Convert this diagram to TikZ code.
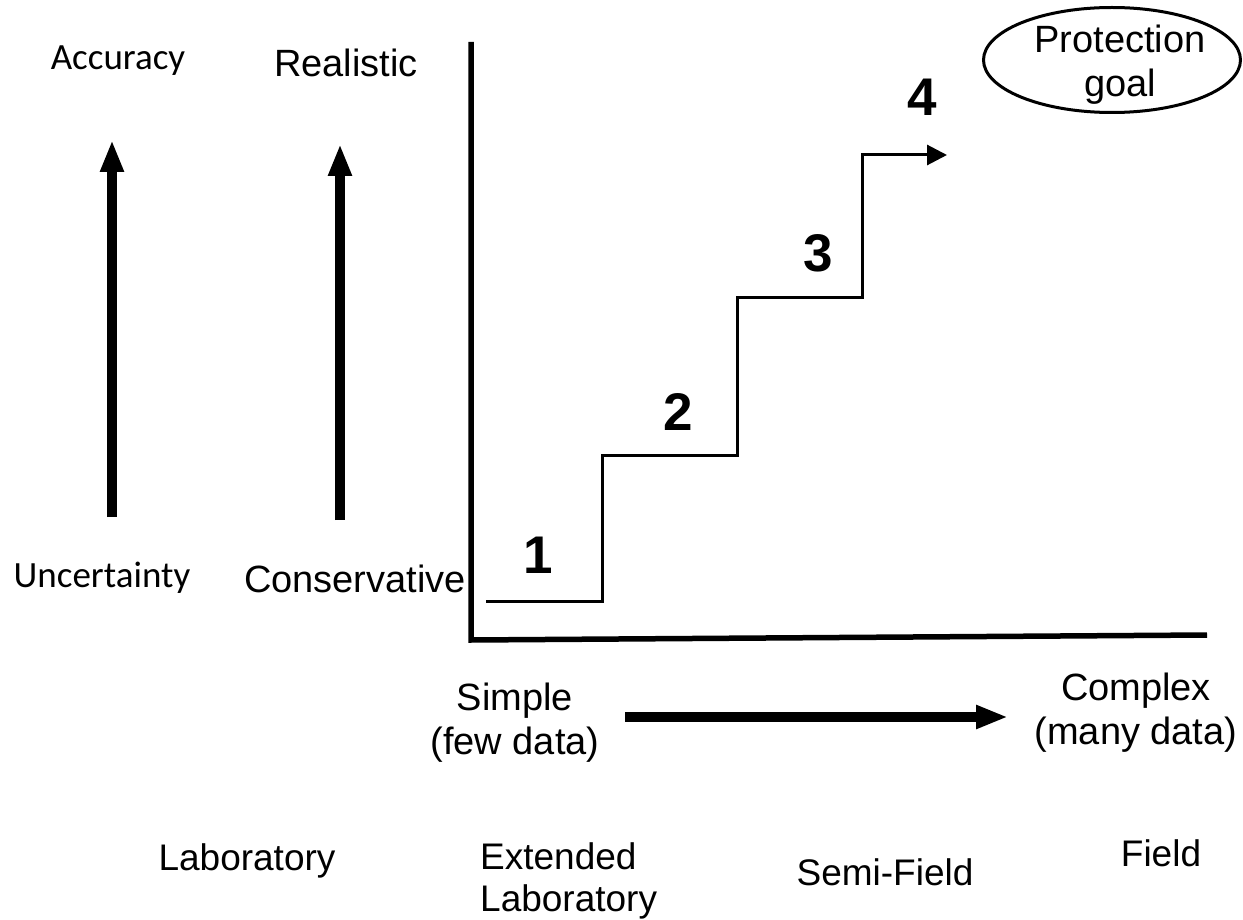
\documentclass[tikz,border=0pt]{standalone}
\usepackage{fontspec}
\setmainfont{Liberation Sans}
\newfontfamily\carlito{Carlito}
\usetikzlibrary{arrows.meta,shapes.geometric}
\tikzset{
  lbl/.style={inner sep=0pt, font=\fontsize{38}{44}\selectfont},
  lblc/.style={inner sep=0pt, font=\carlito\fontsize{37}{42}\selectfont},
  lblb/.style={inner sep=0pt, font=\fontsize{37}{42}\selectfont},
  num/.style={inner sep=0pt, font=\bfseries\fontsize{53}{58}\selectfont},
  axis/.style={line width=5.5pt, line cap=butt},
  stair/.style={line width=3pt, -{Triangle[length=20pt,width=20pt]}},
  bigarrow/.style={line width=10pt, -{Triangle[length=32pt,width=22pt]}},
  goal/.style={draw, ellipse, line width=3pt, minimum width=257pt, minimum height=105pt, inner sep=0pt}
}
\begin{document}
\begin{tikzpicture}[x=1pt,y=-1pt]
\useasboundingbox (0,0) rectangle (1243,920);
% left labels
\node[lblc, anchor=base] (acc) at (118,70) {Accuracy};
\node[lblc, anchor=base] (unc) at (102,587) {Uncertainty};
\node[lbl, anchor=base] (real) at (346,77) {Realistic};
\node[lbl, anchor=base] (cons) at (355,592) {Conservative};
% vertical arrows
\coordinate (a1s) at (112,517);
\coordinate (a1e) at (112,140);
\coordinate (a2s) at (340,520);
\coordinate (a2e) at (340,144);
\draw[bigarrow] (a1s) -- (a1e);
\draw[bigarrow] (a2s) -- (a2e);
% axes
\coordinate (top) at (471,42);
\coordinate (org) at (471,640);
\coordinate (xend) at (1207,635);
\draw[axis, line join=miter] (top) -- (org) -- (xend);
% staircase
\coordinate (s0) at (486,601);
\coordinate (s1) at (602,601);
\coordinate (s2) at (602,455);
\coordinate (s3) at (737,455);
\coordinate (s4) at (737,298);
\coordinate (s5) at (862,298);
\coordinate (s6) at (862,155);
\coordinate (s7) at (947,155);
\draw[stair, line join=miter] (s0) -- (s1) -- (s2) -- (s3) -- (s4) -- (s5) -- (s6) -- (s7);
% numbers
\node[num, anchor=base] (n1) at (538,573) {1};
\node[num, anchor=base] (n2) at (678,430) {2};
\node[num, anchor=base] (n3) at (818,272) {3};
\node[num, anchor=base] (n4) at (922,116) {4};
% goal
\node[goal] (pg) at (1112,60) {};
\node[lbl, align=center, anchor=base] (pgt) at (1120,97) {Protection\\goal};
% x labels
\node[lbl, anchor=north, align=center] (simple) at (515,683) {Simple\\(few data)};
\node[lbl, anchor=north, align=center] (complex) at (1136,673) {Complex\\(many data)};
\coordinate (hs) at (625,717);
\coordinate (he) at (1008,717);
\draw[bigarrow] (hs) -- (he);
% bottom labels
\node[lblb, anchor=base] (lab) at (247,870) {Laboratory};
\node[lblb, anchor=north west, align=left] (ext) at (480,842) {Extended\\Laboratory};
\node[lblb, anchor=base] (semi) at (885,885) {Semi-Field};
\node[lblb, anchor=base] (field) at (1161,866) {Field};
\end{tikzpicture}
\end{document}
